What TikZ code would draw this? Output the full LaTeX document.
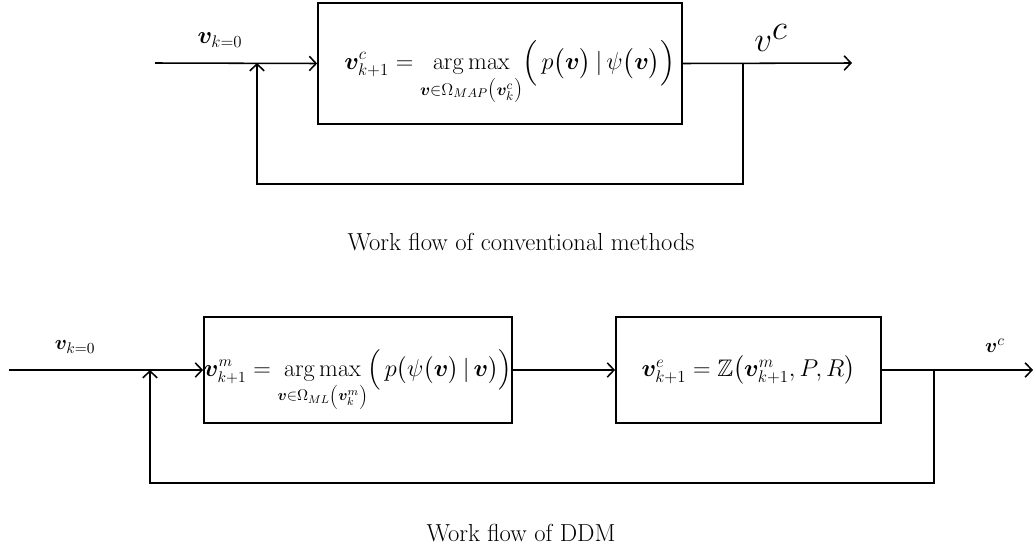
\documentclass[tikz,border=0pt]{standalone}
\usepackage{amsmath,amssymb,bm}
\usetikzlibrary{arrows.meta}

\begin{document}
\begin{tikzpicture}[x=0.025cm, y=-0.025cm,
        block/.style={draw, line width=1.1pt, inner sep=0pt, font=\fontsize{18}{21}\selectfont},
        eqn/.style={text height=10pt, text depth=1pt},
        arrow/.style={-{Straight Barb[length=1.7mm, width=3.6mm, line width=1.1pt]}, line width=1.1pt},
        lbl/.style={inner sep=0pt},
        caption/.style={font=\fontsize{17.5}{20}\selectfont}
      ]
        \useasboundingbox (0,0) rectangle (1035,552);

        \node[block, eqn, minimum width=9.1cm, minimum height=3.03cm] (map) at (500,63.5)
            {\hspace*{0.5cm}$\displaystyle\bm{v}^{c}_{k+1}=\operatorname*{arg\,max}_{\bm{v}\in\Omega_{MAP}\left(\bm{v}^{c}_{k}\right)}\Bigl(\,p\bigl(\bm{v}\bigr)\,|\,\psi\bigl(\bm{v}\bigr)\Bigr)$};
        \coordinate (in1)  at (155,63);
        \coordinate (fin1) at (257,63);
        \coordinate (fout1) at (743,63);
        \coordinate (out1) at (852,63);
        \coordinate (fb1)  at (0,184);
        \node[lbl, font=\fontsize{17}{20}\selectfont] (v0a) at (220,40) {$\bm{v}_{k=0}$};
        \node[lbl, font=\fontsize{34}{40}\selectfont] (vca) at (771,38) {$v^{c}$};
        \node[caption] (cap1) at (521,242) {Work flow of conventional methods};

        \draw[arrow] (in1) -- (map.west);
        \draw[arrow] (map.east) -- (out1);
        \draw[arrow] (fout1) -- (fout1 |- fb1) -- (fin1 |- fb1) -- (fin1);

        \node[block, eqn, font=\fontsize{16}{19}\selectfont, minimum width=7.65cm, minimum height=2.65cm] (ml) at (358,370)
            {$\displaystyle\bm{v}^{m}_{k+1}=\operatorname*{arg\,max}_{\bm{v}\in\Omega_{ML}\left(\bm{v}^{m}_{k}\right)}\Bigl(\,p\bigl(\psi\bigl(\bm{v}\bigr)\,|\,\bm{v}\bigr)\Bigr)$};
        \node[block, font=\fontsize{17}{20}\selectfont, minimum width=6.63cm, minimum height=2.65cm] (zz) at (748.5,370)
            {$\bm{v}^{e}_{k+1}=\mathbb{Z}\bigl(\bm{v}^{m}_{k+1},P,R\bigr)$};
        \coordinate (in2)  at (9,370);
        \coordinate (fin2) at (150,370);
        \coordinate (fout2) at (934,370);
        \coordinate (out2) at (1033,370);
        \coordinate (fb2)  at (0,483);
        \node[lbl, font=\fontsize{15}{18}\selectfont] (v0b) at (75,347) {$\bm{v}_{k=0}$};
        \node[lbl, font=\fontsize{15}{18}\selectfont] (vcb) at (995,346) {$\bm{v}^{c}$};
        \node[caption] (cap2) at (521,533) {Work flow of DDM};

        \draw[arrow] (in2) -- (ml.west);
        \draw[arrow] (ml.east) -- (zz.west);
        \draw[arrow] (zz.east) -- (out2);
        \draw[arrow] (fout2) -- (fout2 |- fb2) -- (fin2 |- fb2) -- (fin2);
      \end{tikzpicture}
\end{document}
